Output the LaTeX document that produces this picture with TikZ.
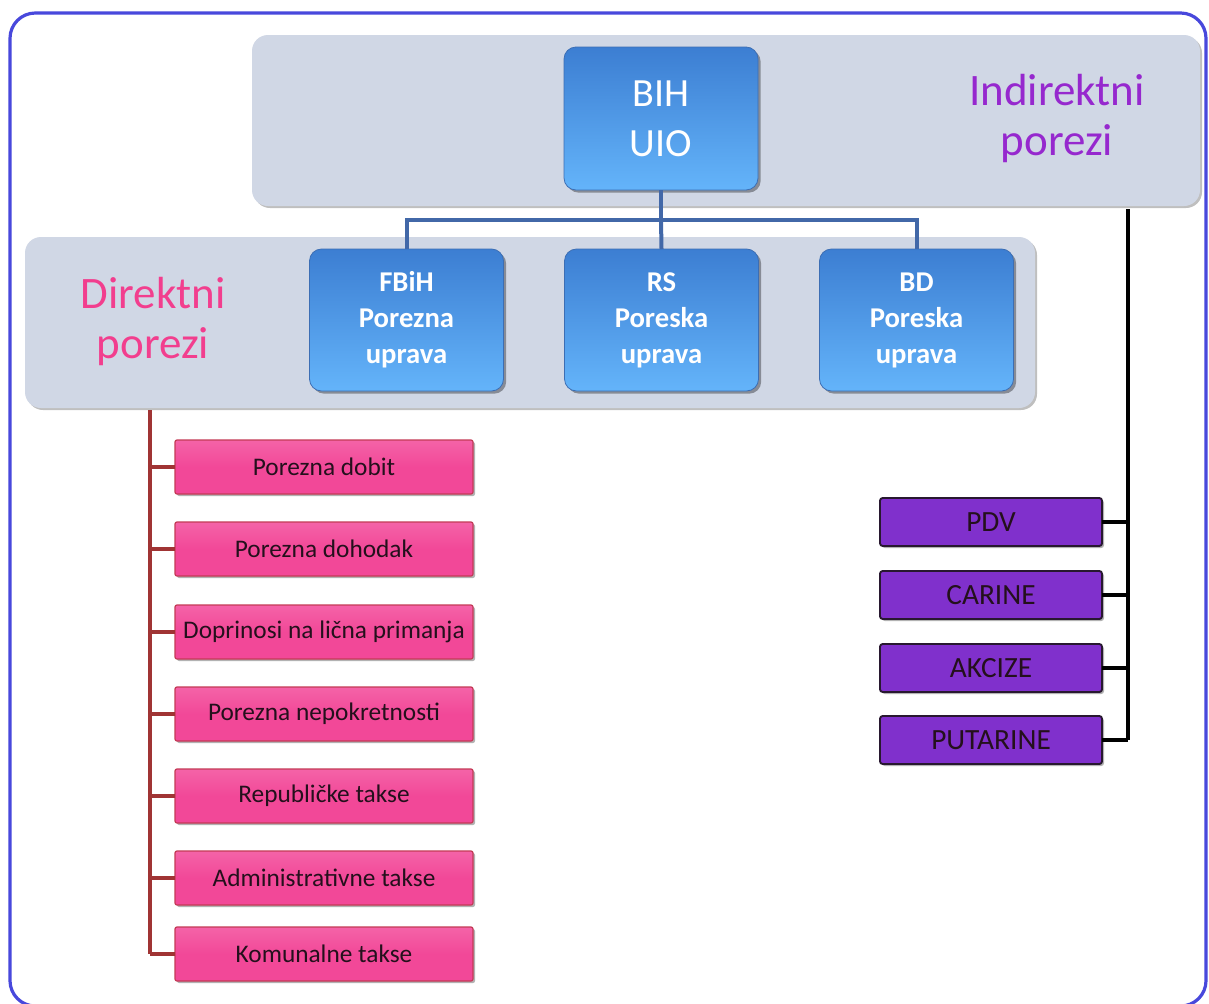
\documentclass[tikz,border=0pt]{standalone}
\usepackage{fontspec}
\setmainfont{Carlito}
\usetikzlibrary{shadows}
\definecolor{frameblue}{RGB}{72,72,220}
\definecolor{panelgray}{RGB}{208,215,229}
\definecolor{bluetop}{RGB}{60,126,210}
\definecolor{bluebot}{RGB}{100,180,250}
\definecolor{blueedge}{RGB}{60,110,180}
\definecolor{blueline}{RGB}{66,104,168}
\definecolor{pinkfill}{RGB}{242,72,152}
\definecolor{pinkedge}{RGB}{196,58,86}
\definecolor{brownline}{RGB}{160,52,52}
\definecolor{purplefill}{RGB}{128,48,204}
\definecolor{purpleedge}{RGB}{40,24,48}
\definecolor{pinktext}{RGB}{242,62,142}
\definecolor{violettext}{RGB}{150,40,206}
\definecolor{darktext}{RGB}{36,16,28}
\def\u{0.75pt}
\begin{document}
\begin{tikzpicture}[x=0.75pt,y=-0.75pt,
  panel/.style={fill=panelgray, rounded corners=12pt, inner sep=0pt, outer sep=0pt,
    drop shadow={shadow xshift=1.5pt, shadow yshift=-1.5pt, opacity=0.25, fill=black}},
  bluebox/.style={draw=blueedge, line width=0.6pt, top color=bluetop, bottom color=bluebot,
    rounded corners=9pt, inner sep=0pt, outer sep=0pt, text=white, align=center,
    minimum width=194*\u, minimum height=142*\u,
    drop shadow={shadow xshift=2pt, shadow yshift=-2pt, opacity=0.35, fill=black}},
  regbox/.style={bluebox, font=\bfseries\fontsize{21.5}{27}\selectfont},
  pinkbox/.style={draw=pinkedge, line width=0.9pt, top color=pinkfill!85!white, bottom color=pinkfill,
    middle color=pinkfill, rounded corners=1.5pt, inner sep=0pt, outer sep=0pt,
    minimum width=298*\u, minimum height=54*\u, text=darktext,
    font=\fontsize{19}{22}\selectfont,
    drop shadow={shadow xshift=1.5pt, shadow yshift=-1.5pt, opacity=0.3, fill=black}},
  purplebox/.style={draw=purpleedge, line width=1.4pt, fill=purplefill, rounded corners=2pt,
    inner sep=0pt, outer sep=0pt, minimum width=222*\u, minimum height=48*\u,
    text=darktext, font=\fontsize{22}{26}\selectfont,
    drop shadow={shadow xshift=1.5pt, shadow yshift=-1.5pt, opacity=0.3, fill=black}},
  bigtext/.style={align=center, font=\fontsize{33.75}{37.5}\selectfont, inner sep=0pt},
  bline/.style={blueline, line width=3pt},
  rline/.style={brownline, line width=3pt},
  kline/.style={black, line width=3pt}
]
\useasboundingbox (0,0) rectangle (1209,1003);
\clip (0,0) rectangle (1209,1003);
\fill[white] (0,0) rectangle (1209,1003);
\draw[frameblue, line width=2.4pt, rounded corners=19pt] (10,13) rectangle (1206,1006);

% panels
\node[panel, minimum width=948*\u, minimum height=171*\u] (toppanel) at (726,120.5) {};
\node[panel, minimum width=1010*\u, minimum height=171*\u] (lowpanel) at (530,322.5) {};

% labels
\node[bigtext, text=violettext] (indir) at (1057,119) {Indirektni\\porezi};
\node[bigtext, text=pinktext] (dir) at (153,321) {Direktni\\porezi};

% blue boxes
\node[bluebox, minimum height=143*\u, font=\fontsize{30}{37.5}\selectfont] (bih) at (661,118.5) {BIH\\UIO};
\node[regbox] (fbih) at (406.5,320) {FBiH\\Porezna\\uprava};
\node[regbox] (rs) at (661.5,320) {RS\\Poreska\\uprava};
\node[regbox] (bd) at (916.5,320) {BD\\Poreska\\uprava};

% blue connectors
\coordinate (bj) at (661,220);
\draw[bline] (bih.south) -- (bj);
\draw[bline] (fbih.north) |- (bj) -| (bd.north);
\draw[bline] (bj) -- (rs.north);

% pink boxes
\node[pinkbox] (p1) at (324,467) {Porezna dobit};
\node[pinkbox] (p2) at (324,549) {Porezna dohodak};
\node[pinkbox] (p3) at (324,632) {Doprinosi na lična primanja};
\node[pinkbox] (p4) at (324,714) {Porezna nepokretnosti};
\node[pinkbox] (p5) at (324,796) {Republičke takse};
\node[pinkbox] (p6) at (324,878) {Administrativne takse};
\node[pinkbox] (p7) at (324,954) {Komunalne takse};

\coordinate (rtop) at (150,410);
\coordinate (rbot) at (150,954);
\draw[rline] (rtop) -- (rbot);
\foreach \n in {p1,p2,p3,p4,p5,p6,p7}{
  \draw[rline] (\n.west) -- (\n.west -| rtop);
}

% purple boxes
\node[purplebox] (k1) at (991,522) {PDV};
\node[purplebox] (k2) at (991,595) {CARINE};
\node[purplebox] (k3) at (991,668) {AKCIZE};
\node[purplebox] (k4) at (991,740) {PUTARINE};

\coordinate (ktop) at (1128,209);
\coordinate (kbot) at (1128,740);
\draw[kline] (ktop) -- (kbot);
\foreach \n in {k1,k2,k3,k4}{
  \draw[kline] (\n.east) -- (\n.east -| ktop);
}
\end{tikzpicture}
\end{document}
